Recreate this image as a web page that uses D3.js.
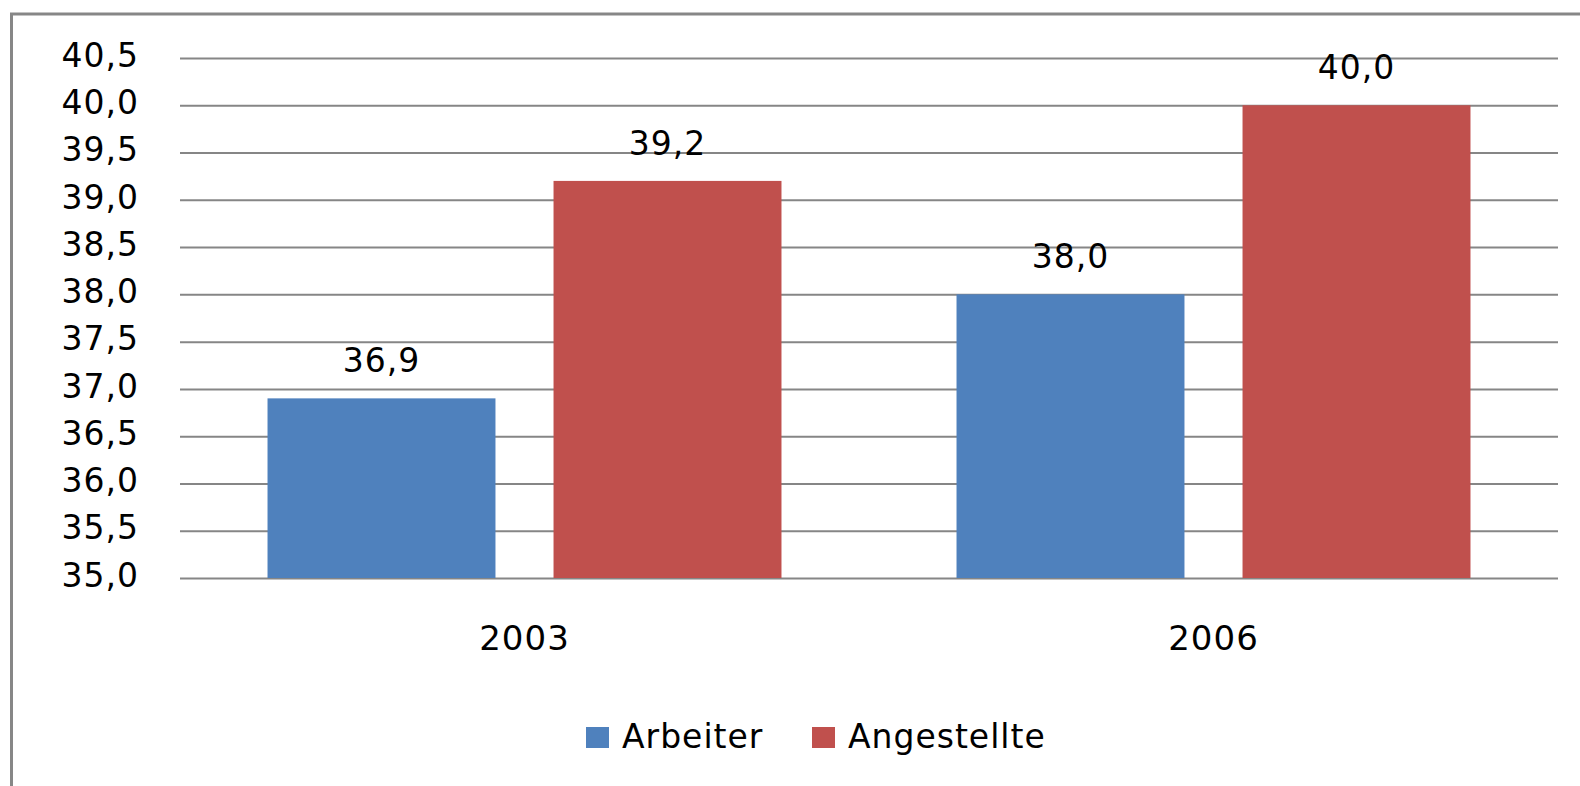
<!DOCTYPE html>
<html>
<head>
<meta charset="utf-8">
<script src="https://cdn.jsdelivr.net/npm/d3@7"></script>
<style>
  body { margin: 0; background: #fff; }
  text { font-family: "DejaVu Sans", sans-serif; fill: #000; letter-spacing: 1px; }
</style>
</head>
<body>
<div id="chart"></div>
<script>
// Arbeiter vs Angestellte bar chart

const years = ["2003", "2006"];
const series = ["Arbeiter", "Angestellte"];
const arbeiter = [36.9, 38.0];
const angestellte = [39.2, 40.0];
const yTicks = [35.0, 35.5, 36.0, 36.5, 37.0, 37.5, 38.0, 38.5, 39.0, 39.5, 40.0, 40.5];
const colors = ["#4F81BD", "#C0504D"];

const width = 1580,
    height = 786,
    margin = ({ top: 58, right: 22, bottom: 208, left: 180 });

const de = d3.formatLocale({ decimal: ",", thousands: ".", grouping: [3], currency: ["", " €"] });
const fmt = de.format(".1f");

const data = years.map((y, i) => ({ year: y, values: [arbeiter[i], angestellte[i]] }));

const svg = d3.select("#chart")
    .append("svg")
    .attr("width", width)
    .attr("height", height);

// frame (only left and top edges visible)
svg.append("path")
    .attr("d", `M11.5,${height} L11.5,14 L${width},14`)
    .attr("fill", "none")
    .attr("stroke", "#878787")
    .attr("stroke-width", 3);

let x = d3.scaleBand()
    .domain(years)
    .range([margin.left, width - margin.right]);

let x1 = d3.scaleBand()
    .domain(series)
    .range([0, x.bandwidth()])
    .paddingInner(0.203)
    .paddingOuter(0.306);

let y = d3.scaleLinear()
    .domain([35, 40.5])
    .range([height - margin.bottom, margin.top]);

// y axis with gridlines
svg.append("g")
    .attr("transform", `translate(${margin.left},0)`)
    .call(d3.axisLeft(y)
      .tickValues(yTicks)
      .tickFormat(fmt)
      .tickSize(-(width - margin.left - margin.right))
      .tickPadding(41))
    .call(g => g.select(".domain").remove())
    .call(g => g.selectAll(".tick line").attr("stroke", "#868686").attr("stroke-width", 2))
    .call(g => g.selectAll(".tick text").attr("font-size", 33).attr("letter-spacing", "1.6px").attr("dy", "0.25em"));

// x axis labels
svg.append("g")
    .attr("transform", `translate(0,${height - margin.bottom})`)
    .call(d3.axisBottom(x).tickSize(0).tickPadding(48))
    .call(g => g.select(".domain").remove())
    .call(g => g.selectAll(".tick text").attr("font-size", 34));

// bars
const groups = svg.append("g")
    .selectAll("g")
    .data(data)
    .join("g")
    .attr("transform", d => `translate(${x(d.year)},0)`);

groups.selectAll("rect")
    .data(d => d.values.map((v, i) => ({ key: series[i], value: v, i })))
    .join("rect")
    .attr("x", d => x1(d.key))
    .attr("y", d => y(d.value))
    .attr("width", x1.bandwidth())
    .attr("height", d => y(35) - y(d.value))
    .attr("fill", d => colors[d.i]);

groups.selectAll("text.val")
    .data(d => d.values.map((v, i) => ({ key: series[i], value: v })))
    .join("text")
    .attr("class", "val")
    .attr("x", d => x1(d.key) + x1.bandwidth() / 2)
    .attr("y", d => y(d.value) - 26)
    .attr("text-anchor", "middle")
    .attr("font-size", 33)
    .text(d => fmt(d.value));

// legend
const legendX = [586, 812];
const legend = svg.append("g")
    .selectAll("g")
    .data(series)
    .join("g")
    .attr("transform", (d, i) => `translate(${legendX[i]},727)`);

legend.append("rect")
    .attr("width", 23)
    .attr("height", 21)
    .attr("fill", (d, i) => colors[i]);

legend.append("text")
    .attr("x", 36)
    .attr("y", 21)
    .attr("font-size", 33)
    .text(d => d);
</script>
</body>
</html>
